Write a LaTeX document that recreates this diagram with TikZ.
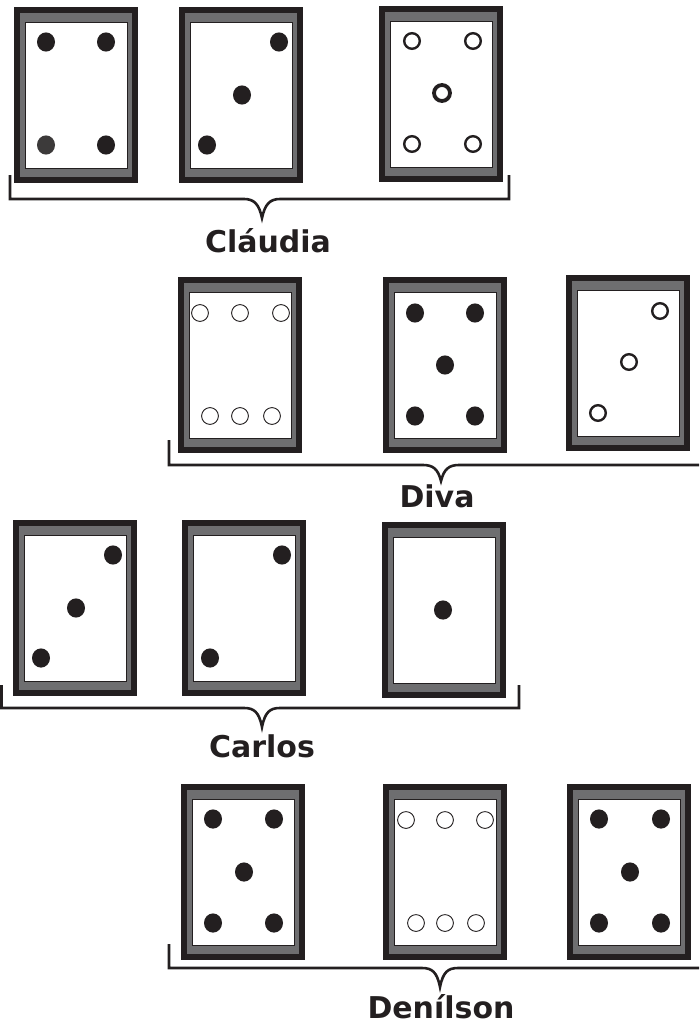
\documentclass[tikz,border=0pt]{standalone}
\usepackage{fontspec}
\setmainfont{DejaVu Sans}
\definecolor{cdark}{RGB}{35,31,32}
\definecolor{cgray}{RGB}{110,110,112}
\definecolor{cdot}{RGB}{60,58,58}
\newcommand\cardframe{%
  \fill[cdark] (0,0) rectangle (124,176);
  \fill[cgray] (6,6) rectangle (118,170);
  \filldraw[fill=white, draw=cdark, line width=0.8] (11,15) rectangle (113,161);
}
\tikzset{
  full/.style={fill=cdark},
  ring/.style={draw=cdark, line width=2.4},
  bigring/.style={draw=cdark, line width=3.8},
  thinring/.style={draw=cdark, line width=0.9},
  bracestroke/.style={draw=cdark, line width=2.6},
  namelabel/.style={anchor=base, font=\fontsize{30}{36}\selectfont\bfseries, text=cdark, inner sep=0pt}
}
\newcommand\fdot[2]{\fill[full] (#1,#2) ellipse (9 and 9.6);}
\newcommand\oring[2]{\draw[ring] (#1,#2) circle (7.8);}
\newcommand\tring[2]{\draw[thinring] (#1,#2) circle (8.4);}
\begin{document}
\begin{tikzpicture}[x=1pt,y=-1pt]
\useasboundingbox (0,0) rectangle (699,1025);
% ---------- Row 1 : Claudia ----------
\begin{scope}[shift={(14,7)}]
  \cardframe
  \fdot{32}{35}\fdot{92}{35}\fill[cdot] (32,138) ellipse (9 and 9.6);\fdot{92}{138}
\end{scope}
\begin{scope}[shift={(179,7)}]
  \cardframe
  \fdot{100}{35}\fdot{63}{88}\fdot{28}{138}
\end{scope}
\begin{scope}[shift={(379,6)}]
  \cardframe
  \oring{33}{35}\oring{94}{35}\oring{33}{138}\oring{94}{138}
  \draw[bigring] (63,87) circle (8);
\end{scope}
\coordinate (b1l) at (10,175);
\coordinate (b1r) at (509,175);
\coordinate (t1) at (262,218);
\draw[bracestroke] (b1l) -- (10,199) -- (244,199)
  .. controls (254,199) and (259,204) .. (t1)
  .. controls (265,204) and (270,199) .. (280,199) -- (509,199) -- (b1r);
\node[namelabel] (claudia) at (268,252) {Cláudia};
% ---------- Row 2 : Diva ----------
\begin{scope}[shift={(178,277)}]
  \cardframe
  \tring{22}{36}\tring{62}{36}\tring{103}{36}
  \tring{32}{139}\tring{62}{139}\tring{94}{139}
\end{scope}
\begin{scope}[shift={(383,277)}]
  \cardframe
  \fdot{32}{36}\fdot{92}{36}\fdot{62}{88}\fdot{32}{139}\fdot{92}{139}
\end{scope}
\begin{scope}[shift={(566,275)}]
  \cardframe
  \oring{94}{36}\oring{63}{87}\oring{32}{138}
\end{scope}
\coordinate (b2l) at (169,440);
\coordinate (b2r) at (699,465);
\coordinate (t2) at (441,481);
\draw[bracestroke] (b2l) -- (169,465) -- (423,465)
  .. controls (433,465) and (438,469) .. (t2)
  .. controls (444,469) and (449,465) .. (459,465) -- (b2r);
\node[namelabel] (diva) at (437,507) {Diva};
% ---------- Row 3 : Carlos ----------
\begin{scope}[shift={(13,520)}]
  \cardframe
  \fdot{100}{35}\fdot{63}{88}\fdot{28}{138}
\end{scope}
\begin{scope}[shift={(182,520)}]
  \cardframe
  \fdot{100}{35}\fdot{28}{138}
\end{scope}
\begin{scope}[shift={(382,522)}]
  \cardframe
  \fdot{61}{88}
\end{scope}
\coordinate (b3l) at (1.5,685);
\coordinate (b3r) at (519,685);
\coordinate (t3) at (262,727);
\draw[bracestroke] (b3l) -- (1.5,708) -- (244,708)
  .. controls (254,708) and (259,712) .. (t3)
  .. controls (265,712) and (270,708) .. (280,708) -- (519,708) -- (b3r);
\node[namelabel] (carlos) at (262,757) {Carlos};
% ---------- Row 4 : Denilson ----------
\begin{scope}[shift={(181,784)}]
  \cardframe
  \fdot{32}{35}\fdot{93}{35}\fdot{63}{88}\fdot{32}{139}\fdot{93}{139}
\end{scope}
\begin{scope}[shift={(383,784)}]
  \cardframe
  \tring{23}{36}\tring{62}{36}\tring{102}{36}
  \tring{33}{139}\tring{62}{139}\tring{93}{139}
\end{scope}
\begin{scope}[shift={(567,784)}]
  \cardframe
  \fdot{32}{35}\fdot{94}{35}\fdot{63}{88}\fdot{32}{139}\fdot{94}{139}
\end{scope}
\coordinate (b4l) at (169,944);
\coordinate (b4r) at (699,968);
\coordinate (t4) at (440,987);
\draw[bracestroke] (b4l) -- (169,968) -- (422,968)
  .. controls (432,968) and (437,972) .. (t4)
  .. controls (443,972) and (448,968) .. (458,968) -- (b4r);
\node[namelabel] (denilson) at (441,1018) {Denílson};
\end{tikzpicture}
\end{document}
